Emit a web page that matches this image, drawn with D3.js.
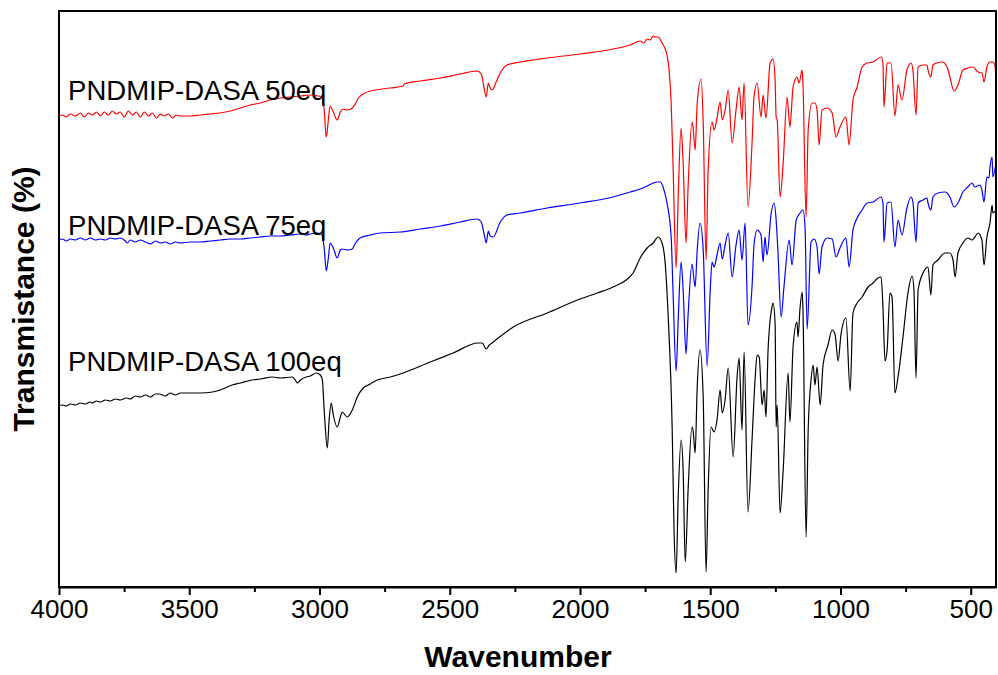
<!DOCTYPE html>
<html>
<head>
<meta charset="utf-8">
<script src="https://cdn.jsdelivr.net/npm/d3@7"></script>
<style>
  html, body { margin: 0; padding: 0; background: #fff; }
  svg { display: block; }
</style>
</head>
<body>
<div id="chart"></div>
<script>
// ---------------- DATA (wavenumber cm^-1, transmittance in arbitrary units) ----------------
const xTicks = [4000, 3500, 3000, 2500, 2000, 1500, 1000, 500];
const xMinorTicks = [3750, 3250, 2750, 2250, 1750, 1250, 750];
const seriesNames = ["PNDMIP-DASA 50eq", "PNDMIP-DASA 75eq", "PNDMIP-DASA 100eq"];
const seriesColors = ["#ff0000", "#0000ff", "#000000"];

const spectrum50eq = [[4000,471],[3987,472],[3972,470],[3956,473],[3937,471],[3918,474],[3903,470],[3887,474],[3872,472],[3856,475],[3841,471],[3826,475],[3810,472],[3795,476],[3780,473],[3765,475],[3749,470],[3734,476],[3718,472],[3703,475],[3688,470],[3672,475],[3657,471],[3642,474],[3626,469],[3611,473],[3596,471],[3580,473],[3565,469],[3550,472],[3534,471],[3496,471],[3457,472],[3419,473],[3381,474],[3342,476],[3304,479],[3266,482],[3227,484],[3189,487],[3150,489],[3112,490],[3073,491],[3035,492],[3005,491],[2989,490],[2982,477],[2974,450],[2966,467],[2959,481],[2947,475],[2932,467],[2920,475],[2909,478],[2893,477],[2874,479],[2863,483],[2851,489],[2832,493],[2805,496],[2786,497],[2728,499],[2679,501],[2675,503],[2613,506],[2536,509],[2460,513],[2395,516],[2379,513],[2368,499],[2360,490],[2352,504],[2345,499],[2337,497],[2322,505],[2306,514],[2280,522],[2229,525],[2126,529],[2000,533],[1873,538],[1807,542],[1769,546],[1755,544],[1742,548],[1730,547],[1719,551],[1712,550],[1700,550],[1685,544],[1673,538],[1666,532],[1658,517],[1650,484],[1643,424],[1631,319],[1623,390],[1612,459],[1604,424],[1593,344],[1585,400],[1570,465],[1566,460],[1558,437],[1550,484],[1535,508],[1527,464],[1516,327],[1508,417],[1493,465],[1485,457],[1474,469],[1462,485],[1454,467],[1443,477],[1431,497],[1416,444],[1401,477],[1389,500],[1378,467],[1370,504],[1355,380],[1339,447],[1332,490],[1320,504],[1305,470],[1297,492],[1286,469],[1270,524],[1259,528],[1251,507],[1247,470],[1243,467],[1232,390],[1220,424],[1205,490],[1194,460],[1182,500],[1167,510],[1159,504],[1147,517],[1144,504],[1132,370],[1124,457],[1109,484],[1098,484],[1090,477],[1082,442],[1071,477],[1051,479],[1032,474],[1017,450],[1002,460],[979,470],[967,442],[952,487],[936,500],[917,520],[898,524],[875,525],[844,530],[837,524],[833,480],[821,524],[806,524],[791,471],[779,502],[764,487],[745,517],[729,524],[722,517],[710,472],[702,520],[683,522],[668,522],[664,517],[653,510],[645,522],[630,524],[610,525],[591,520],[580,510],[564,496],[549,502],[530,517],[511,519],[491,520],[472,515],[457,514],[449,505],[438,520],[426,525],[415,525],[407,522],[403,505]];

const spectrum75eq = [[4000,347],[3987,348],[3972,346],[3956,348],[3937,347],[3918,349],[3899,347],[3880,349],[3860,347],[3841,348],[3822,347],[3803,349],[3784,348],[3765,349],[3745,346],[3738,344],[3726,347],[3707,345],[3688,347],[3668,345],[3649,343],[3630,346],[3611,344],[3592,345],[3573,343],[3553,345],[3534,344],[3496,345],[3457,345],[3419,346],[3381,347],[3342,348],[3304,348],[3266,349],[3227,350],[3189,351],[3150,351],[3112,352],[3073,353],[3051,352],[3035,353],[3012,354],[2993,353],[2982,339],[2974,316],[2966,329],[2959,344],[2947,339],[2932,329],[2920,337],[2913,338],[2893,337],[2874,338],[2866,342],[2844,349],[2805,352],[2767,354],[2690,355],[2613,358],[2536,361],[2460,365],[2395,368],[2379,365],[2368,353],[2360,344],[2352,356],[2345,351],[2333,350],[2306,365],[2280,372],[2229,374],[2126,379],[2000,384],[1873,390],[1807,395],[1769,398],[1742,401],[1719,404],[1704,405],[1692,405],[1681,400],[1666,384],[1650,350],[1643,297],[1631,216],[1623,267],[1612,325],[1604,297],[1593,233],[1585,272],[1570,323],[1558,300],[1550,337],[1539,364],[1527,337],[1512,221],[1500,297],[1493,325],[1485,320],[1474,332],[1462,344],[1454,328],[1443,342],[1431,354],[1416,310],[1401,342],[1389,357],[1378,327],[1366,364],[1355,262],[1339,303],[1332,342],[1320,357],[1305,352],[1297,325],[1290,350],[1282,332],[1266,374],[1255,384],[1247,367],[1240,335],[1228,270],[1217,300],[1197,347],[1186,322],[1170,367],[1155,374],[1144,377],[1136,360],[1128,258],[1113,345],[1101,348],[1090,340],[1082,313],[1071,340],[1051,349],[1032,348],[1017,330],[1002,339],[979,349],[967,320],[952,357],[936,369],[917,377],[898,384],[875,385],[844,390],[837,384],[833,345],[821,384],[806,385],[791,340],[779,367],[764,352],[745,379],[729,390],[722,385],[710,345],[702,384],[683,387],[668,389],[664,384],[653,377],[645,390],[626,394],[599,395],[580,390],[564,380],[549,384],[530,395],[511,400],[495,404],[484,400],[465,402],[457,397],[449,385],[438,410],[430,409],[426,420],[418,430],[415,410],[403,424]];

const spectrum100eq = [[4000,181],[3987,182],[3972,181],[3956,183],[3937,182],[3918,184],[3899,183],[3880,185],[3872,184],[3856,186],[3841,185],[3822,187],[3803,186],[3784,188],[3765,187],[3741,189],[3726,188],[3707,191],[3688,190],[3668,192],[3649,190],[3630,193],[3615,193],[3592,191],[3573,194],[3553,192],[3534,194],[3488,194],[3457,194],[3411,195],[3381,197],[3335,202],[3304,204],[3258,207],[3227,208],[3181,210],[3150,209],[3104,210],[3093,207],[3085,204],[3073,207],[3051,210],[3035,211],[3012,214],[2997,212],[2989,207],[2982,177],[2970,139],[2963,167],[2955,184],[2947,172],[2932,160],[2920,170],[2913,175],[2893,170],[2874,177],[2855,190],[2832,199],[2805,203],[2778,207],[2728,210],[2690,213],[2679,214],[2575,225],[2487,234],[2391,244],[2375,244],[2360,238],[2348,242],[2333,245],[2256,260],[2126,274],[2000,288],[1934,294],[1873,300],[1796,314],[1769,329],[1742,339],[1719,344],[1700,350],[1685,344],[1673,324],[1662,274],[1646,157],[1639,57],[1631,14],[1623,90],[1612,147],[1604,117],[1596,25],[1585,97],[1570,160],[1566,157],[1558,134],[1550,200],[1539,237],[1527,190],[1516,15],[1508,97],[1497,160],[1485,155],[1474,167],[1462,197],[1454,174],[1443,187],[1431,219],[1412,130],[1397,210],[1389,229],[1378,157],[1370,235],[1355,75],[1339,150],[1328,207],[1320,232],[1312,230],[1301,182],[1293,197],[1286,170],[1278,237],[1263,280],[1259,284],[1251,264],[1247,160],[1243,182],[1232,74],[1220,117],[1201,214],[1194,165],[1182,240],[1167,265],[1163,250],[1155,280],[1147,295],[1144,277],[1132,50],[1124,157],[1113,207],[1105,222],[1098,202],[1090,220],[1078,182],[1067,222],[1048,242],[1032,257],[1021,253],[1009,226],[998,253],[979,269],[963,196],[952,274],[936,284],[917,290],[894,300],[875,304],[856,309],[844,310],[837,280],[829,226],[821,237],[810,294],[802,290],[791,194],[779,210],[760,250],[741,294],[725,311],[718,297],[710,209],[702,297],[683,314],[664,320],[653,292],[645,322],[626,327],[599,334],[580,334],[568,327],[560,310],[549,334],[530,344],[511,349],[495,347],[484,350],[472,354],[457,347],[449,322],[438,350],[426,364],[418,382],[415,374],[403,377]];

const allSpectra = [spectrum50eq, spectrum75eq, spectrum100eq];
// label anchor (wavenumber, transmittance) for each series name
const labelAnchors = [[3965, 487], [3965, 352], [3965, 216]];

// ---------------- CHART ----------------
const W = 998, H = 675;
const margin = {left: 59, right: 2, top: 11, bottom: 88};
const svg = d3.select("#chart").append("svg").attr("width", W).attr("height", H);

const x = d3.scaleLinear().domain([4000, 403]).range([margin.left, W - margin.right]);
const y = d3.scaleLinear().domain([0, 576]).range([H - margin.bottom, margin.top]);

const font = "'Liberation Sans', Arial, Helvetica, sans-serif";

const line = d3.line().x(d => x(d[0])).y(d => y(d[1])).curve(d3.curveMonotoneX);

const g = svg.append("g");
allSpectra.forEach((s, i) => {
  g.append("path").datum(s)
    .attr("fill", "none")
    .attr("stroke", seriesColors[i])
    .attr("stroke-width", 1.2)
    .attr("stroke-linejoin", "round")
    .attr("d", line);
});

// frame
svg.append("rect")
  .attr("x", x.range()[0]).attr("y", y.range()[1])
  .attr("width", x.range()[1] - x.range()[0])
  .attr("height", y.range()[0] - y.range()[1])
  .attr("fill", "none").attr("stroke", "#000").attr("stroke-width", 2);

// bottom axis major
const axMajor = svg.append("g").attr("transform", `translate(0,${y.range()[0]})`)
  .call(d3.axisBottom(x).tickValues(xTicks).tickSize(8).tickPadding(5).tickSizeOuter(0).tickFormat(d3.format("d")));
axMajor.select(".domain").attr("stroke-width", 2);
axMajor.selectAll(".tick line").attr("stroke-width", 2);
axMajor.selectAll("text").attr("font-family", font).attr("font-size", 26).attr("fill", "#000");

const axMinor = svg.append("g").attr("transform", `translate(0,${y.range()[0]})`)
  .call(d3.axisBottom(x).tickValues(xMinorTicks).tickSize(5).tickFormat(""));
axMinor.select(".domain").remove();
axMinor.selectAll(".tick line").attr("stroke-width", 2);

// axis titles
svg.append("text")
  .attr("x", 518).attr("y", 667)
  .attr("text-anchor", "middle")
  .attr("font-family", font).attr("font-weight", "bold").attr("font-size", 30)
  .text("Wavenumber");

svg.append("text")
  .attr("transform", `translate(34,${(y.range()[0] + y.range()[1]) / 2}) rotate(-90)`)
  .attr("text-anchor", "middle")
  .attr("font-family", font).attr("font-weight", "bold").attr("font-size", 30)
  .text("Transmistance (%)");

// series labels
seriesNames.forEach((name, i) => {
  svg.append("text")
    .attr("x", x(labelAnchors[i][0]))
    .attr("y", y(labelAnchors[i][1]))
    .attr("font-family", font).attr("font-size", 27.5).attr("fill", "#000")
    .text(name);
});
</script>
</body>
</html>
